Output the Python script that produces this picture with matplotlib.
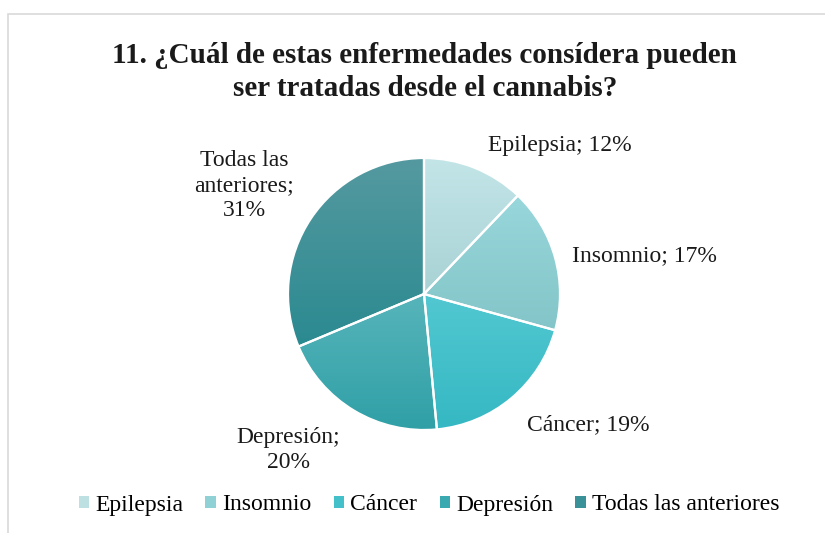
import matplotlib.pyplot as plt
import numpy as np
from matplotlib.colors import LinearSegmentedColormap
from matplotlib.patches import Patch, Rectangle

plt.rcParams['font.family'] = ['Liberation Serif', 'DejaVu Serif']

categorias = ["Epilepsia", "Insomnio", "Cáncer", "Depresión", "Todas las anteriores"]
porcentajes = [12, 17, 19, 20, 31]
etiquetas = ["Epilepsia; 12%", "Insomnio; 17%", "Cáncer; 19%", "Depresión;\n20%",
             "Todas las\nanteriores;\n31%"]

# colores arriba / abajo del degradado de cada porcion
color_arriba = ["#c3e5e8", "#98d7db", "#52c8d1", "#57b5bb", "#5599a0"]
color_abajo = ["#a8d2d5", "#83c5c8", "#35b8c3", "#2f9fa6", "#2a8a90"]
color_leyenda = ["#bde0e3", "#90d1d5", "#44c0ca", "#3aa9b0", "#3a9298"]

# posicion de cada etiqueta (unidades del radio)
pos_etiquetas = [(1.0, 1.09), (1.62, 0.28), (1.21, -0.96), (-1.0, -1.15), (-1.32, 0.80)]

W, H = 825, 533
cx, cy, r = 424, 294, 136

fig = plt.figure(figsize=(W / 100, H / 100), dpi=100)
ax = fig.add_axes([0, 0, 1, 1])
ax.axis('off')

wedges, _ = ax.pie(porcentajes, startangle=90, counterclock=False, radius=1,
                   wedgeprops=dict(facecolor='none', edgecolor='white', linewidth=1.6))
ax.set_aspect('auto')

for w, c1, c2 in zip(wedges, color_arriba, color_abajo):
    w.set_zorder(3)
    v = w.get_path().vertices
    x0, x1 = v[:, 0].min(), v[:, 0].max()
    y0, y1 = v[:, 1].min(), v[:, 1].max()
    cmap = LinearSegmentedColormap.from_list("g", [c2, c1])
    grad = np.linspace(0, 1, 256).reshape(-1, 1)
    im = ax.imshow(grad, cmap=cmap, origin='lower', extent=(x0, x1, y0, y1),
                   aspect='auto', zorder=2, interpolation='bilinear')
    im.set_clip_path(w)

ax.set_xlim(-cx / r, (W - cx) / r)
ax.set_ylim(-(H - cy) / r, cy / r)

for txt, (x, y) in zip(etiquetas, pos_etiquetas):
    ax.text(x, y, txt, ha='center', va='center', fontsize=17, color='#1a1a1a',
            linespacing=1.25)

fig.text(0.515, 1 - 72 / H, "11. ¿Cuál de estas enfermedades consídera pueden\nser tratadas desde el cannabis?",
         ha='center', va='center', fontsize=21, fontweight='bold', color='#1a1a1a',
         linespacing=1.3)

handles = [Patch(facecolor=c, edgecolor='none') for c in color_leyenda]
fig.legend(handles, categorias, loc='center', bbox_to_anchor=(0.52, 1 - 505 / H),
           ncol=5, frameon=False, fontsize=17, handlelength=0.45, handleheight=0.45,
           handletextpad=0.25, columnspacing=0.95)

# marco del grafico
fig.patches.append(Rectangle((8 / W, -0.1), 1.2, (H - 14) / H + 0.1, transform=fig.transFigure,
                             fill=False, edgecolor='#d9d9d9', linewidth=1.2))

fig.savefig("out.png", dpi=100)
